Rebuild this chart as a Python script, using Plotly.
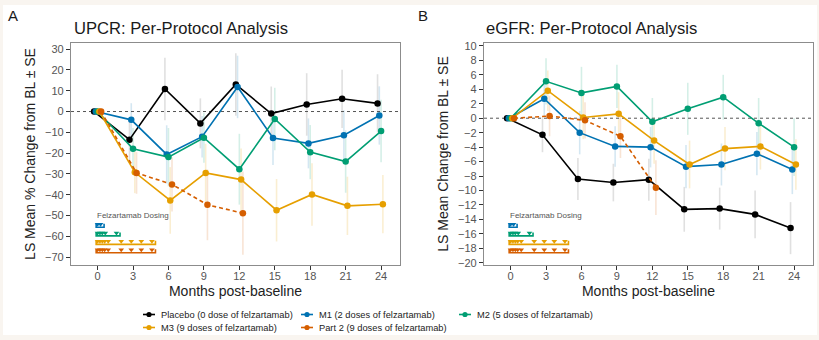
import plotly.graph_objects as go

# ---------------- data ----------------
months = [0, 3, 6, 9, 12, 15, 18, 21, 24]
months_part2 = [0, 3, 6, 9, 12]
groups = ["Placebo (0 dose of felzartamab)", "M1 (2 doses of felzartamab)",
          "M2 (5 doses of felzartamab)", "M3 (9 doses of felzartamab)",
          "Part 2 (9 doses of felzartamab)"]
colors = ["#000000", "#0072B2", "#009E73", "#E69F00", "#D55E00"]
err_colors = ["rgba(60,60,60,0.16)", "rgba(0,114,178,0.17)", "rgba(0,158,115,0.17)",
              "rgba(230,159,0,0.18)", "rgba(213,94,0,0.17)"]

# UPCR: LS mean % change from baseline
upcr_placebo = [0, -13.5, 10.8, -5.7, 13.0, -1.0, 3.4, 6.1, 3.9]
upcr_m1 = [0, -4.0, -20.6, -12.1, 11.8, -12.7, -15.3, -11.4, -1.9]
upcr_m2 = [0, -17.9, -21.9, -12.6, -27.7, -3.6, -19.5, -24.0, -9.4]
upcr_m3 = [0, -29.2, -42.7, -29.5, -32.7, -47.4, -39.8, -45.3, -44.5]
upcr_part2 = [0, -29.5, -35.0, -44.8, -48.8]
upcr_se_placebo = [0, 10, 15, 12, 15, 13, 15, 14, 14]
upcr_se_m1 = [0, 8, 14, 10, 15, 13, 12, 12, 14]
upcr_se_m2 = [0, 10, 14, 12, 17, 15, 13, 15, 15]
upcr_se_m3 = [0, 10, 16, 14, 15, 15, 15, 14, 14]
upcr_se_part2 = [0, 10, 13, 17, 20]

# eGFR: LS mean change from baseline
egfr_placebo = [0, -2.3, -8.4, -8.9, -8.5, -12.6, -12.5, -13.3, -15.2]
egfr_m1 = [0, 2.7, -2.0, -3.9, -4.0, -6.7, -6.4, -4.9, -7.1]
egfr_m2 = [0, 5.1, 3.5, 4.4, -0.5, 1.3, 2.9, -0.7, -4.0]
egfr_m3 = [0, 3.8, 0.1, 0.6, -3.1, -6.4, -4.2, -3.9, -6.4]
egfr_part2 = [0, 0.3, -0.3, -2.5, -9.6]
egfr_se_placebo = [0, 2.4, 2.9, 2.6, 2.9, 3.1, 2.9, 3.3, 3.6]
egfr_se_m1 = [0, 2.5, 3.0, 2.8, 2.8, 3.0, 2.9, 3.0, 3.4]
egfr_se_m2 = [0, 3.2, 3.6, 3.0, 3.3, 3.6, 3.1, 3.5, 4.0]
egfr_se_m3 = [0, 2.8, 3.0, 3.0, 3.2, 3.3, 3.0, 3.2, 3.5]
egfr_se_part2 = [0, 2.8, 2.5, 3.0, 3.8]

# Felzartamab dosing (months)
dose_m1 = [0, 0.25]
dose_m2 = [0, 0.2, 0.4, 0.65, 1.6]
dose_m3 = [0, 0.2, 0.4, 0.6, 0.9, 2.0, 2.85, 3.7, 4.6]
dose_part2 = [0, 0.2, 0.4, 0.6, 0.9, 2.0, 2.85, 3.7, 4.6]

x_ticks = [0, 3, 6, 9, 12, 15, 18, 21, 24]
upcr_ticks = [30, 20, 10, 0, -10, -20, -30, -40, -50, -60, -70]
egfr_ticks = [10, 8, 6, 4, 2, 0, -2, -4, -6, -8, -10, -12, -14, -16, -18, -20]

# ---------------- layout geometry ----------------
W, H = 819, 340
ML, MR, MT, MB = 71, 6, 43, 75
PW = W - ML - MR
PH = H - MT - MB
def px(x):
    return (x - ML) / PW
def py(y):
    return (H - MB - y) / PH

x_range = [-2.25, 25.6]
upcr_range = [-73.7, 32.9]
egfr_range = [-20.3, 10.4]
dodge = [-0.3, -0.15, 0.0, 0.15, 0.3]

FONT = "Liberation Sans, Arial, Helvetica, sans-serif"
fig = go.Figure()

panels = [
    dict(xa="x", ya="y", rng=upcr_range,
         series=[upcr_placebo, upcr_m1, upcr_m2, upcr_m3, upcr_part2],
         ses=[upcr_se_placebo, upcr_se_m1, upcr_se_m2, upcr_se_m3, upcr_se_part2]),
    dict(xa="x2", ya="y2", rng=egfr_range,
         series=[egfr_placebo, egfr_m1, egfr_m2, egfr_m3, egfr_part2],
         ses=[egfr_se_placebo, egfr_se_m1, egfr_se_m2, egfr_se_m3, egfr_se_part2]),
]

for p in panels:
    # error bars first (underneath)
    for i, (vals, se) in enumerate(zip(p["series"], p["ses"])):
        mx = months if len(vals) == len(months) else months_part2
        xs = [m + dodge[i] for m in mx]
        fig.add_trace(go.Scatter(
            x=xs, y=vals, mode="markers", marker=dict(size=0.1, color="rgba(0,0,0,0)"),
            error_y=dict(type="data", array=se, visible=True, width=0,
                         thickness=1.6, color=err_colors[i]),
            xaxis=p["xa"], yaxis=p["ya"], showlegend=False, hoverinfo="skip"))
    # dashed zero line
    fig.add_trace(go.Scatter(x=x_range, y=[0, 0], mode="lines",
                             line=dict(color="#555555", width=1, dash="3px,3px"),
                             xaxis=p["xa"], yaxis=p["ya"], showlegend=False, hoverinfo="skip"))
    for i, vals in enumerate(p["series"]):
        mx = months if len(vals) == len(months) else months_part2
        xs = [m + dodge[i] for m in mx]
        fig.add_trace(go.Scatter(
            x=xs, y=vals, mode="lines+markers",
            line=dict(color=colors[i], width=1.6, dash="4px,3px" if i == 4 else "solid"),
            marker=dict(color=colors[i], size=6.5),
            xaxis=p["xa"], yaxis=p["ya"], showlegend=False, name=groups[i]))

    # dosing schematic
    lo, hi = p["rng"]
    span = hi - lo
    unit = span / PH  # data units per pixel
    row_frac = [0.170, 0.131, 0.093, 0.055]
    doses = [dose_m1, dose_m2, dose_m3, dose_part2]
    for k, (fr, d) in enumerate(zip(row_frac, doses)):
        yb = lo + fr * span
        xs0 = d[0] - 0.12
        xe = d[-1] + 0.3
        fig.add_trace(go.Scatter(
            x=[xs0, xs0, xe, xe], y=[yb + 3.5 * unit, yb, yb, yb + 3.5 * unit],
            mode="lines", line=dict(color=colors[k + 1], width=1.6),
            xaxis=p["xa"], yaxis=p["ya"], showlegend=False, hoverinfo="skip"))
        fig.add_trace(go.Scatter(
            x=d, y=[yb + 3.0 * unit] * len(d), mode="markers",
            marker=dict(symbol="triangle-down", size=5, color=colors[k + 1],
                        line=dict(width=0)),
            xaxis=p["xa"], yaxis=p["ya"], showlegend=False, hoverinfo="skip"))
    fig.add_annotation(x=-0.2, y=lo + 0.222 * span, xref=p["xa"], yref=p["ya"],
                       text="Felzartamab Dosing", showarrow=False, xanchor="left",
                       yanchor="middle", font=dict(size=8, color="#555555", family=FONT))

# white panel with beige page edges
fig.add_shape(type="rect", xref="paper", yref="paper", x0=px(3), x1=px(817),
              y0=py(335), y1=py(5), fillcolor="white", line=dict(width=0), layer="below")

axis_common = dict(showgrid=False, zeroline=False, showline=True, mirror=True,
                   linecolor="#8c8c8c", linewidth=1.3, ticks="outside", ticklen=4,
                   tickwidth=1, tickcolor="#333333",
                   tickfont=dict(size=11, color="#555555", family=FONT))
xcommon = dict(ticklabelstandoff=-3)
left_dom = [0, px(400)]
right_dom = [px(484), 1]
fig.update_layout(
    width=W, height=H, margin=dict(l=ML, r=MR, t=MT, b=MB),
    paper_bgcolor="#f9f5f0", plot_bgcolor="white", showlegend=False,
    font=dict(family=FONT),
    xaxis=dict(domain=left_dom, range=x_range, tickvals=x_ticks, anchor="y",
               title=dict(text="Months post-baseline", font=dict(size=14, color="#222"), standoff=4),
               **axis_common, **xcommon),
    yaxis=dict(range=upcr_range, tickvals=upcr_ticks, anchor="x",
               title=dict(text="LS Mean % Change from BL ± SE", font=dict(size=14, color="#222"), standoff=6),
               **axis_common),
    xaxis2=dict(domain=right_dom, range=x_range, tickvals=x_ticks, anchor="y2",
                title=dict(text="Months post-baseline", font=dict(size=14, color="#222"), standoff=4),
                **axis_common, **xcommon),
    yaxis2=dict(range=egfr_range, tickvals=egfr_ticks, anchor="x2",
                title=dict(text="LS Mean Change from BL ± SE", font=dict(size=14, color="#222"), standoff=6),
                **axis_common),
)

# panel titles and letters
for txt, x0 in [("UPCR: Per-Protocol Analysis", 72), ("eGFR: Per-Protocol Analysis", 484)]:
    fig.add_annotation(x=px(x0), y=py(28), xref="paper", yref="paper", text=txt,
                       showarrow=False, xanchor="left", yanchor="middle",
                       font=dict(size=16.6, color="#1a1a1a", family=FONT))
for txt, x0 in [("A", 6), ("B", 416)]:
    fig.add_annotation(x=px(x0), y=py(16), xref="paper", yref="paper", text=txt,
                       showarrow=False, xanchor="left", yanchor="middle",
                       font=dict(size=15, color="#1a1a1a", family=FONT))

# manual legend
leg_pos = [(149, 314.5), (307, 314.5), (465, 314.5), (149, 327.5), (307, 327.5)]
for i, (gx, gy) in enumerate(leg_pos):
    fig.add_shape(type="line", xref="paper", yref="paper", x0=px(gx - 6), x1=px(gx + 6),
                  y0=py(gy), y1=py(gy), line=dict(color=colors[i], width=1.6))
    fig.add_shape(type="circle", xref="paper", yref="paper", x0=px(gx - 2.6), x1=px(gx + 2.6),
                  y0=py(gy + 2.6), y1=py(gy - 2.6), fillcolor=colors[i], line=dict(width=0))
    fig.add_annotation(x=px(gx + 10), y=py(gy), xref="paper", yref="paper", text=groups[i],
                       showarrow=False, xanchor="left", yanchor="middle",
                       font=dict(size=9.3, color="#222222", family=FONT))

fig.write_html("out.html")
